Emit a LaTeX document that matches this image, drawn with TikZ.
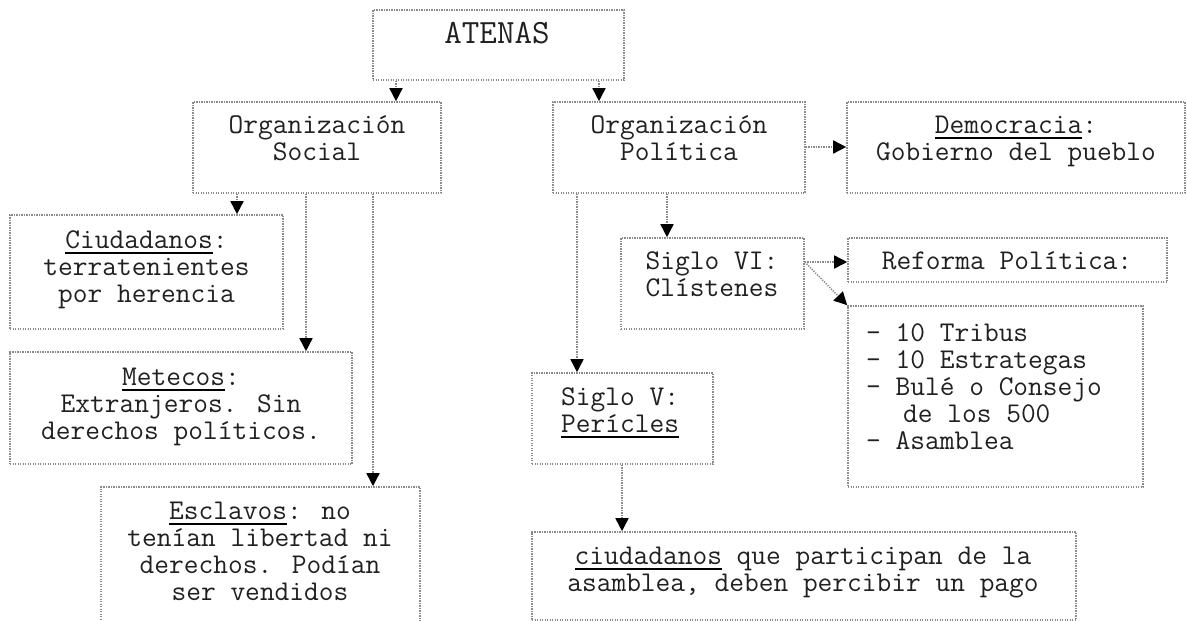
\documentclass[tikz,border=0pt]{standalone}
\usepackage{fontspec}
\usetikzlibrary{arrows.meta,fit}
\definecolor{txtc}{HTML}{202020}
\definecolor{brd}{HTML}{8A8A8A}
\newcommand\ulw[1]{\setbox0\hbox{#1}\rlap{\color{black}\rule[-5.5pt]{\wd0}{1.6pt}}#1}
\tikzset{
  box/.style={draw=brd, line width=1.6pt, dash pattern=on 1.2pt off 1.3pt, inner sep=0pt},
  txt/.style={text=txtc, font={\ttfamily\fontsize{28.6}{27}\selectfont}, align=center, anchor=base, inner sep=0pt},
  conn/.style={draw=brd, line width=1.6pt, dash pattern=on 1.2pt off 1.3pt,
    -{Triangle[width=13pt,length=13pt,fill=black,color=black]}}
}
\begin{document}
\begin{tikzpicture}[x=1pt,y=-1pt]
\useasboundingbox (0,0) rectangle (1187,621);
\clip (0,0) rectangle (1187,621);
% boxes
\node[box, fit={(373,10) (624,80)}] (atenas) {};
\node[box, fit={(193,102) (441,193)}] (osoc) {};
\node[box, fit={(553,102) (805,193)}] (opol) {};
\node[box, fit={(847,102) (1185,193)}] (demo) {};
\node[box, fit={(10,215) (283,329)}] (ciud) {};
\node[box, fit={(10,352) (352,464)}] (mete) {};
\node[box, fit={(101,487) (420,640)}] (escl) {};
\node[box, fit={(621,238) (804,329)}] (s6) {};
\node[box, fit={(848,238) (1167,282)}] (refo) {};
\node[box, fit={(848,306) (1143,487)}] (list) {};
\node[box, fit={(532,373) (713,464)}] (s5) {};
\node[box, fit={(532,532) (1076,620)}] (pago) {};
% texts (anchor base = baseline of last line)
\node[txt, font={\ttfamily\fontsize{34}{36}\selectfont}] (tatenas) at (497,43) {ATENAS};
\node[txt] (tosoc) at (317,160) {Organización\\Social};
\node[txt] (topol) at (679,160) {Organización\\Política};
\node[txt] (tdemo) at (1016,160) {\ulw{Democracia}:\\Gobierno del pueblo};
\node[txt] (tciud) at (146.5,302) {\ulw{Ciudadanos}:\\terratenientes\\por herencia};
\node[txt] (tmete) at (181,439) {\ulw{Metecos}:\\Extranjeros. Sin\\derechos políticos.};
\node[txt] (tescl) at (260,600) {\ulw{Esclavos}: no\\tenían libertad ni\\derechos. Podían\\ser vendidos};
\node[txt] (ts6) at (712,296) {Siglo VI:\\Clístenes};
\node[txt] (trefo) at (1007,269) {Reforma Política:};
\node[txt, align=left, anchor=base west] (tlist) at (866,449) {- 10 Tribus\\- 10 Estrategas\\- Bulé o Consejo\\\hspace*{37pt}de los 500\\- Asamblea};
\node[txt, align=left, anchor=base west] (ts5) at (561,432) {Siglo V:\\\ulw{Perícles}};
\node[txt] (tpago) at (803,591) {\ulw{ciudadanos} que participan de la\\asamblea, deben percibir un pago};
% x-positions of connectors
\coordinate (xa1) at (396,0);
\coordinate (xa2) at (599,0);
\coordinate (xs1) at (237,0);
\coordinate (xs2) at (306,0);
\coordinate (xs3) at (373,0);
\coordinate (xp1) at (577,0);
\coordinate (xp2) at (667,0);
\coordinate (xv) at (622,0);
\coordinate (yd) at (0,147);
\coordinate (yr) at (0,262);
% connectors
\draw[conn] (atenas.south -| xa1) -- (osoc.north -| xa1);
\draw[conn] (atenas.south -| xa2) -- (opol.north -| xa2);
\draw[conn] (osoc.south -| xs1) -- (ciud.north -| xs1);
\draw[conn] (osoc.south -| xs2) -- (mete.north -| xs2);
\draw[conn] (osoc.south -| xs3) -- (escl.north -| xs3);
\draw[conn] (opol.south -| xp1) -- (s5.north -| xp1);
\draw[conn] (opol.south -| xp2) -- (s6.north -| xp2);
\draw[conn] (opol.east |- yd) -- (demo.west |- yd);
\draw[conn] (s6.east |- yr) -- (refo.west |- yr);
\draw[conn] (s6.east |- yr) -- (list.north west);
\draw[conn] (s5.south -| xv) -- (pago.north -| xv);
\end{tikzpicture}
\end{document}
